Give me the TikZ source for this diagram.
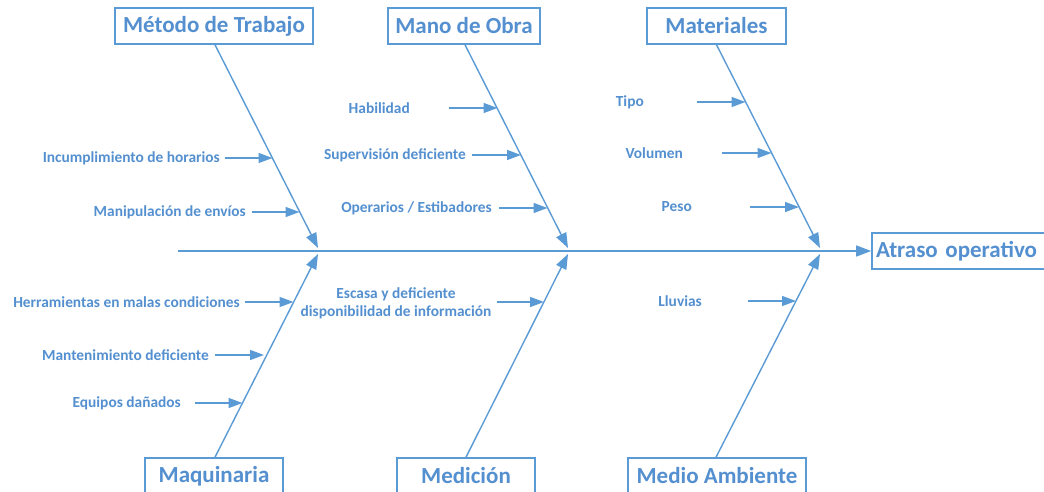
\documentclass[tikz,border=0pt]{standalone}
\usepackage{fontspec}
\setmainfont{Carlito}
\usetikzlibrary{arrows.meta}
\definecolor{fb}{HTML}{5B9BD5}
\definecolor{ft}{HTML}{5490D0}
\begin{document}
\begin{tikzpicture}[x=1pt,y=-1pt,
  catbox/.style={draw=fb,line width=1.6pt,fill=white,text=ft,font=\bfseries\fontsize{23}{27}\selectfont,minimum height=36pt,inner sep=0pt},
  lbl/.style={text=ft,font=\bfseries\fontsize{15.4}{18}\selectfont,inner sep=0pt,anchor=east},
  bone/.style={draw=fb,line width=1.4pt,-{Triangle[length=15pt,width=11pt]}},
  sub/.style={draw=fb,line width=1.4pt,-{Triangle[length=14pt,width=10pt]}}]
\clip (0,0) rectangle (1044,492);
\useasboundingbox (0,0) rectangle (1044,492);
\fill[white] (0,0) rectangle (1044,492);
% category boxes
\node[catbox,minimum width=198pt] (met) at (214,26) {Método de Trabajo};
\node[catbox,minimum width=152pt] (mo) at (464,26) {Mano de Obra};
\node[catbox,minimum width=139pt] (mat) at (716.5,26) {Materiales};
\node[catbox,minimum width=138pt] (maq) at (214,476) {Maquinaria};
\node[catbox,minimum width=138pt] (med) at (466,476) {Medición};
\node[catbox,minimum width=178pt] (ma) at (717,476) {Medio Ambiente};
\node[catbox,minimum width=174pt,text width=166pt,align=left,inner xsep=4pt] (at) at (959,251) {Atraso operativo};
% junctions
\coordinate (j1t) at (318,248);
\coordinate (j2t) at (568,248);
\coordinate (j3t) at (820,248);
\coordinate (j1b) at (318,254);
\coordinate (j2b) at (568,254);
\coordinate (j3b) at (820,254);
\coordinate (sp0) at (178,251);
% spine
\draw[bone] (sp0) -- (at.west);
% bones
\draw[bone] ([xshift=1pt]met.south) -- (j1t);
\draw[bone] ([xshift=1pt]mo.south) -- (j2t);
\draw[bone] (mat.south) -- (j3t);
\draw[bone] ([xshift=1pt]maq.north) -- (j1b);
\draw[bone] (med.north) -- (j2b);
\draw[bone] ([xshift=-1pt]ma.north) -- (j3b);
% labels
\node[lbl] (l1) at (220,158) {Incumplimiento de horarios};
\node[lbl] (l2) at (246,212) {Manipulación de envíos};
\node[lbl] (l3) at (410,108) {Habilidad};
\node[lbl] (l4) at (466,155) {Supervisión deficiente};
\node[lbl] (l5) at (492,208) {Operarios / Estibadores};
\node[lbl] (l6) at (644,102) {Tipo};
\node[lbl] (l7) at (683,153) {Volumen};
\node[lbl] (l8) at (692,207) {Peso};
\node[lbl] (l9) at (240,302) {Herramientas en malas condiciones};
\node[lbl] (l10) at (209,355) {Mantenimiento deficiente};
\node[lbl] (l11) at (181,403) {Equipos dañados};
\node[lbl,anchor=center,align=center,font=\bfseries\fontsize{15.4}{17.5}\selectfont] (l12) at (396,303.5) {Escasa y deficiente\\disponibilidad de información};
\node[lbl] (l13) at (702,301) {Lluvias};
% sub-arrow coordinates
\coordinate (s1) at (225,158); \coordinate (e1) at (272.5,158);
\coordinate (s2) at (252,212); \coordinate (e2) at (299.5,212);
\coordinate (s3) at (449,108); \coordinate (e3) at (497.5,108);
\coordinate (s4) at (472,155); \coordinate (e4) at (521,155);
\coordinate (s5) at (499,208); \coordinate (e5) at (547.5,208);
\coordinate (s6) at (697,102); \coordinate (e6) at (745.5,102);
\coordinate (s7) at (722,153); \coordinate (e7) at (771.5,153);
\coordinate (s8) at (750,207); \coordinate (e8) at (799,207);
\coordinate (s9) at (245,302); \coordinate (e9) at (293.5,302);
\coordinate (s10) at (215,355); \coordinate (e10) at (264,355);
\coordinate (s11) at (195,403); \coordinate (e11) at (242.5,403);
\coordinate (s12) at (497,302); \coordinate (e12) at (544,302);
\coordinate (s13) at (748,301); \coordinate (e13) at (796,301);
\foreach \i in {1,...,13}{\draw[sub] (s\i) -- (e\i);}
\end{tikzpicture}
\end{document}
